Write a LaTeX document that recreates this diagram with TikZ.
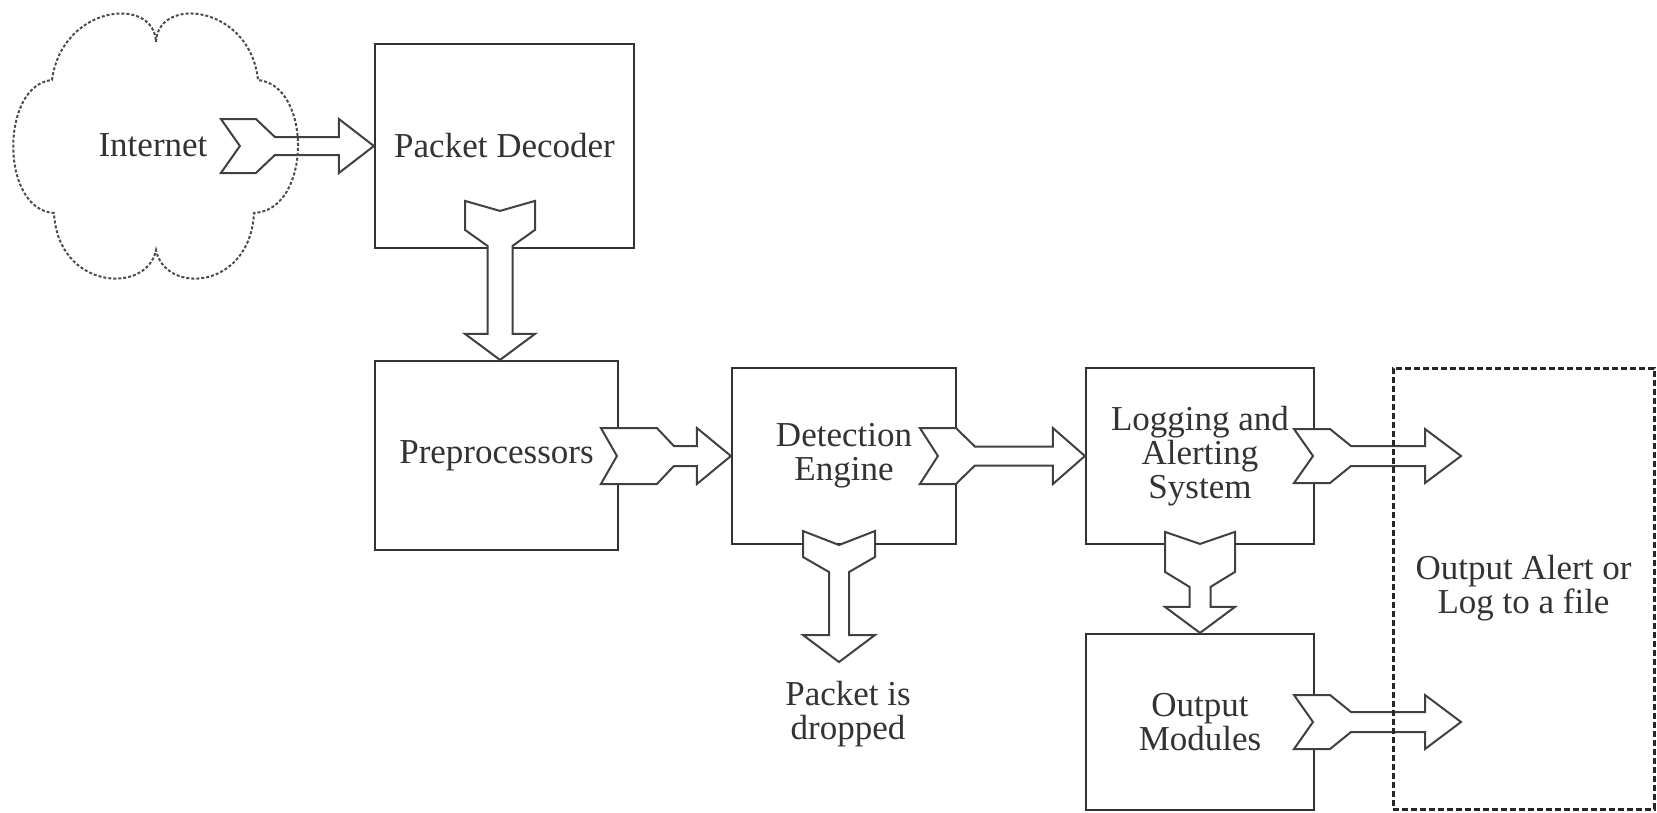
\documentclass[tikz,border=0pt]{standalone}
\usepackage{fontspec}
\setmainfont{Liberation Serif}
\usetikzlibrary{calc}

% Block arrow with a notched tail, pointing along +x in its own frame, tip at #1.
% #2 angle, #3 total length, #4 tail flat length, #5 half width (tail and head),
% #6 notch depth, #7 shaft half width, #8 head length, #9 taper length
\newcommand\blockarrow[9]{%
  \draw[arrowline, shift={(#1)}, rotate=#2]
    (0,0) -- (-#8pt,#5pt) -- (-#8pt,#7pt)
    -- ({-#3pt+#4pt+#9pt},#7pt) -- ({-#3pt+#4pt},#5pt) -- (-#3pt,#5pt)
    -- ({-#3pt+#6pt},0)
    -- (-#3pt,-#5pt) -- ({-#3pt+#4pt},-#5pt) -- ({-#3pt+#4pt+#9pt},-#7pt)
    -- (-#8pt,-#7pt) -- (-#8pt,-#5pt) -- cycle;}

\tikzset{
  txt/.style={text=black!80, font=\fontsize{35pt}{34pt}\selectfont, align=center, inner sep=0pt},
  box/.style={txt, draw=black!80, line width=2.2pt, fill=white},
  outbox/.style={txt, draw=black!85, line width=3pt, dash pattern=on 6pt off 3pt},
  arrowline/.style={draw=black!75, line width=2pt, fill=white, line join=miter},
  cloudline/.style={draw=black!70, line width=2pt, dash pattern=on 3pt off 2pt}
}

\begin{document}
\begin{tikzpicture}[x=1pt,y=-1pt]
\useasboundingbox (0,0) rectangle (1657,812);

% processing stages
\node[box, minimum width=259pt, minimum height=204pt] (pd)  at (504.5,146)   {Packet Decoder};
\node[box, minimum width=243pt, minimum height=189pt] (pre) at (496.5,455.5) {Preprocessors};
\node[box, minimum width=224pt, minimum height=176pt] (de)  at (844,456)     {Detection\\Engine};
\node[box, minimum width=228pt, minimum height=176pt] (log) at (1200,456)    {Logging and\\Alerting\\System};
\node[box, minimum width=228pt, minimum height=176pt] (om)  at (1200,722)    {Output\\Modules};

\node[txt] (inet) at (153,145) {Internet};
\node[txt] (drop) at (848,714) {Packet is\\dropped};

% free ends of the arrows
\coordinate (dropin) at (839,662);
\coordinate (alertin) at (1461,456);
\coordinate (modin) at (1461,722);

% flow arrows
\blockarrow{pd.west}{0}{153}{35}{27}{19}{9}{35}{19}
\blockarrow{$(pre.north)+(3.5,0)$}{-90}{159}{29}{35}{10}{12.5}{26}{16}
\blockarrow{de.west}{0}{130}{56}{28}{16}{10}{34}{17}
\blockarrow{log.west}{0}{165}{36}{28}{18}{9.5}{32}{19}
\blockarrow{dropin}{-90}{131}{26}{36}{14}{10}{27}{15}
\blockarrow{alertin}{0}{167}{36}{27}{19}{10}{36}{21}
\blockarrow{om.north}{-90}{101}{40}{35}{12}{10.5}{26}{15}
\blockarrow{modin}{0}{167}{36}{27}{19}{10}{36}{21}

% Internet cloud
\draw[cloudline]
  (156,42) .. controls (158,-5) and (250,5) .. (258,80)
  .. controls (312,85) and (312,210) .. (254,213)
  .. controls (250,290) and (165,295) .. (156,250)
  .. controls (147,295) and (58,290) .. (54,213)
  .. controls (0,210) and (0,85) .. (52,80)
  .. controls (62,5) and (154,-5) .. cycle;

% output destination
\node[outbox, minimum width=261pt, minimum height=441pt] (out) at (1523.5,588.5) {Output Alert or\\Log to a file};
\end{tikzpicture}
\end{document}
